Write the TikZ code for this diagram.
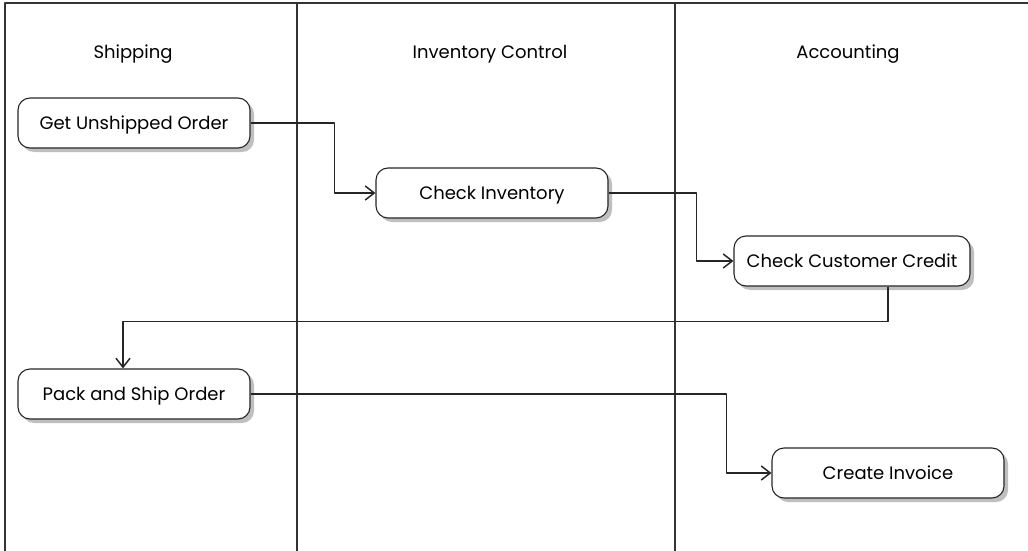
\documentclass[tikz,border=0pt]{standalone}
\usepackage{fontspec}
\setmainfont{Poppins}
\usetikzlibrary{arrows.meta,shadows}
\begin{document}
\begin{tikzpicture}[x=1pt,y=-1pt,line join=round,>={Straight Barb[length=9pt,width=14pt,line width=1.5pt]}]
	\tikzset{every node/.style={font=\fontsize{18}{21}\selectfont},
		lane/.style={draw=black!80,line width=1.1pt},
		activity/.style={draw=black!85,line width=1.1pt,fill=white,rounded corners=12pt,
			minimum width=232pt,minimum height=50pt,inner sep=0pt,text depth=1pt,
			drop shadow={shadow xshift=4pt,shadow yshift=-4pt,fill=black!25,opacity=1}},
		flow/.style={->,draw=black!85,line width=1.1pt}}
	\useasboundingbox (0,0) rectangle (1028,551);
	% lanes
	\draw[lane] (5,551)--(5,3)--(1028,3);
	\foreach \x in {297,675}
	\draw[lane] (\x,3)--(\x,551);
	\foreach \x/\t/\n in {133/Shipping/hship,490/Inventory Control/hinv,848/Accounting/hacc}
	\node (\n) at (\x,54) {\t};
	% activities
	\node[activity] (getorder) at (134,123) {Get Unshipped Order};
	\node[activity] (checkinv) at (492,193) {Check Inventory};
	\node[activity,minimum width=236pt] (credit) at (852,261) {Check Customer Credit};
	\node[activity] (packship) at (134,394) {Pack and Ship Order};
	\node[activity] (invoice) at (888,473) {Create Invoice};
	% flows
	\draw[flow] (getorder.east) -- ++(84,0) |- (checkinv.west);
	\draw[flow] (checkinv.east) -- ++(88,0) |- (credit.west);
	\draw[flow] ([xshift=36pt]credit.south) -- ++(0,35) -| ([xshift=-11pt]packship.north);
	\draw[flow] (packship.east) -- ++(476,0) |- (invoice.west);
\end{tikzpicture}
\end{document}
